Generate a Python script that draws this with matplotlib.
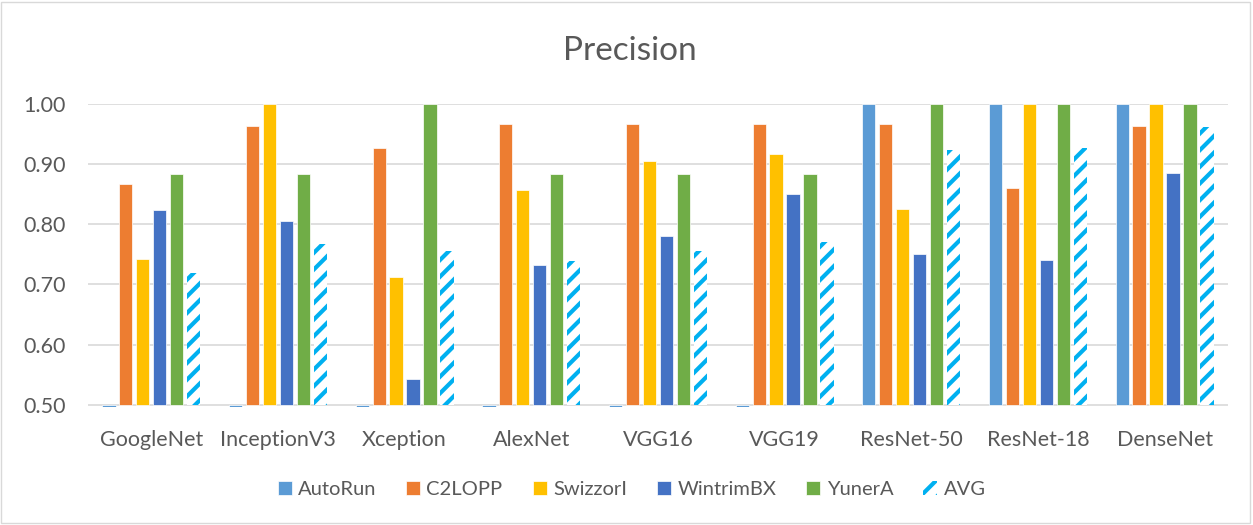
import matplotlib
matplotlib.use('Agg')
import matplotlib.pyplot as plt
import matplotlib.patches as patches
import numpy as np

plt.rcParams['font.family'] = ['Lato', 'DejaVu Sans']
plt.rcParams['hatch.linewidth'] = 3.0

# Data
models = ['GoogleNet', 'InceptionV3', 'Xception', 'AlexNet', 'VGG16', 'VGG19',
          'ResNet-50', 'ResNet-18', 'DenseNet']
series_names = ['AutoRun', 'C2LOPP', 'SwizzorI', 'WintrimBX', 'YunerA', 'AVG']
autorun = [0.0, 0.0, 0.0, 0.0, 0.0, 0.0, 1.00, 1.00, 1.00]
c2lopp = [0.867, 0.964, 0.926, 0.967, 0.967, 0.967, 0.967, 0.861, 0.963]
swizzori = [0.742, 1.00, 0.713, 0.857, 0.905, 0.917, 0.826, 1.00, 1.00]
wintrimbx = [0.824, 0.805, 0.542, 0.733, 0.781, 0.851, 0.750, 0.741, 0.885]
yunera = [0.883, 0.883, 1.00, 0.883, 0.883, 0.883, 1.00, 1.00, 1.00]
avg = [0.719, 0.767, 0.756, 0.739, 0.755, 0.770, 0.923, 0.926, 0.962]
yticks = [0.50, 0.60, 0.70, 0.80, 0.90, 1.00]

series = [autorun, c2lopp, swizzori, wintrimbx, yunera, avg]
colors = ['#5B9BD5', '#ED7D31', '#FFC000', '#4472C4', '#70AD47', '#00B0F0']
txt = '#595959'

fig = plt.figure(figsize=(12.53, 5.25), dpi=100)
ax = fig.add_axes([0.0702, 0.2240, 0.9098, 0.5781])

x = np.arange(len(models))
stride = 0.134
width = 0.105
base = 0.5
for i, (name, vals, col) in enumerate(zip(series_names, series, colors)):
    pos = x + (i - 2.5) * stride
    h = np.array(vals) - base
    if name == 'AVG':
        ax.bar(pos, h, width, bottom=base, facecolor='white', edgecolor=col,
               linewidth=0, hatch='//', label=name, zorder=2)
    else:
        ax.bar(pos, h, width, bottom=base, color=col, edgecolor='white',
               linewidth=0.5, label=name, zorder=2)

ax.set_xlim(-0.5, len(models) - 0.5)
ax.set_ylim(0.4955, 1.0)
ax.set_yticks(yticks)
ax.set_yticklabels([f'{t:.2f}' for t in yticks])
ax.set_xticks(x)
ax.set_xticklabels(models)
ax.tick_params(axis='both', length=0, labelsize=15.5, colors=txt)
ax.tick_params(axis='y', pad=16)
ax.tick_params(axis='x', pad=16)
for s in ax.spines.values():
    s.set_visible(False)
ax.yaxis.grid(True, color='#D9D9D9', linewidth=1.2, zorder=0)
ax.set_axisbelow(True)

fig.text(0.503, 0.902, 'Precision', ha='center', va='center', fontsize=24, color=txt)

leg = fig.legend(*ax.get_legend_handles_labels(), loc='center',
                 bbox_to_anchor=(0.504, 0.067), ncol=6, frameon=False,
                 fontsize=14.5, handlelength=0.7, handleheight=0.7, handletextpad=0.3,
                 columnspacing=1.5)
for t in leg.get_texts():
    t.set_color(txt)

# chart border
fig.patches.append(patches.Rectangle((0.001, 0.004), 0.997, 0.993, transform=fig.transFigure,
                                     fill=False, edgecolor='#D9D9D9', linewidth=1))

fig.savefig('out.png', dpi=100)
